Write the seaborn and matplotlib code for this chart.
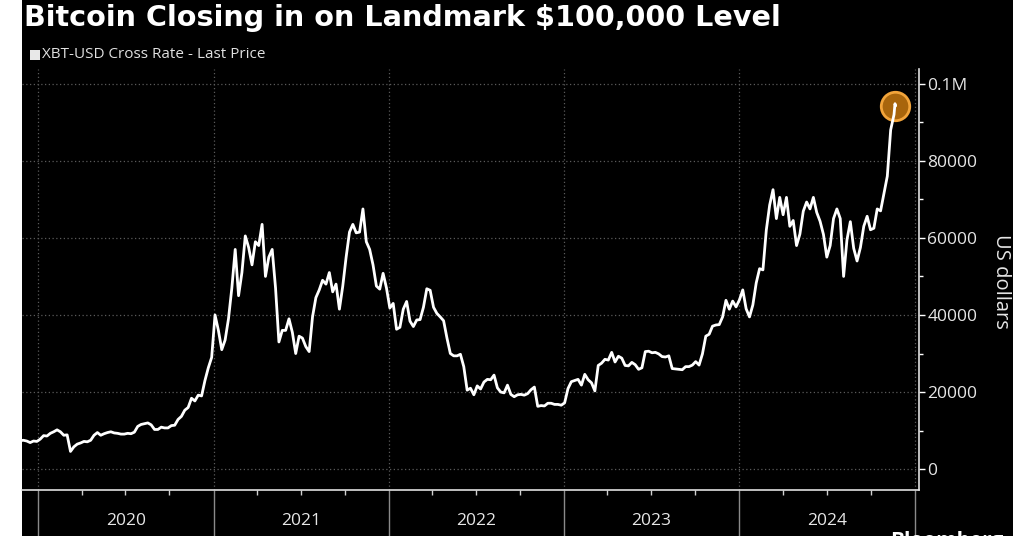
import numpy as np
import pandas as pd
import matplotlib
matplotlib.use("Agg")
import matplotlib.pyplot as plt
import matplotlib.dates as mdates
import matplotlib.transforms as mtransforms
from matplotlib.ticker import MultipleLocator, FixedLocator, FixedFormatter
from matplotlib.patches import Rectangle
import seaborn as sns

# ---------------- data (weekly) ----------------
start_2019 = "2019-11-25"
price_2019 = [7400, 7500, 7300, 6900, 7300, 7200]

start_2020 = "2020-01-06"
price_2020 = [7800, 8700, 8600, 9300,
              9700, 10200, 9700, 8800,
              8900, 4600, 5800, 6500, 6800,
              7200, 7100, 7500, 8800,
              9500, 8800, 9200, 9500,
              9700, 9400, 9300, 9100, 9100,
              9300, 9200, 9600, 11100,
              11600, 11800, 12000, 11500, 10300,
              10300, 10900, 10700, 10700,
              11300, 11400, 12900, 13700,
              15300, 16000, 18400, 17700, 19200,
              19000, 23000, 26300, 29000]

start_2021 = "2021-01-04"
price_2021 = [40000, 36000, 31000, 33500,
              39000, 47000, 57000, 45000,
              51000, 60500, 57500, 53000, 59000,
              58000, 63500, 50000, 55000,
              57000, 47000, 33000, 36000, 36000,
              39000, 35500, 30000, 34500,
              34000, 31800, 30500, 39500,
              44500, 46500, 49000, 48000, 51000,
              46000, 48000, 41500, 47500,
              55000, 61500, 63500, 61300,
              61500, 67500, 59000, 57000, 53000,
              47500, 46700, 50800, 47000]

start_2022 = "2022-01-03"
price_2022 = [41800, 43000, 36300, 36800, 41500,
              43500, 38400, 37000, 38700,
              38800, 42000, 46800, 46400,
              42000, 40400, 39500, 38500,
              34000, 30000, 29400, 29400, 29800,
              26600, 20500, 21000, 19300,
              21600, 20800, 22600, 23300,
              23200, 24400, 21100, 20000, 19800,
              21800, 19400, 18800, 19300,
              19400, 19200, 19600, 20600, 21300,
              16300, 16500, 16400, 17100,
              17100, 16800, 16800, 16600]

start_2023 = "2023-01-02"
price_2023 = [17200, 20900, 22700, 23000, 23300,
              21800, 24600, 23200, 22400,
              20300, 26900, 27500, 28500,
              28300, 30300, 27800, 29300,
              28800, 26900, 26800, 27700, 27100,
              25900, 26300, 30500, 30600,
              30200, 30300, 29900, 29200, 29100,
              29400, 26100, 26000, 25900,
              25800, 26600, 26600, 27000,
              27900, 27000, 29900, 34500, 35000,
              37100, 37400, 37500, 39500,
              43800, 41500, 43600, 42100]

start_2024 = "2024-01-01"
price_2024 = [43900, 46500, 41600, 39500, 42600,
              48300, 52000, 51700, 62000,
              68500, 72500, 65000, 70500,
              66000, 70500, 63000, 64500, 58000,
              61000, 66900, 69300, 67500,
              70500, 66600, 64300, 60900,
              55000, 58000, 65000, 67500, 65000,
              50000, 59500, 64200, 57300,
              54000, 57500, 63000, 65600, 62100,
              62500, 67500, 67000, 71500,
              76000, 88000, 92000]

last_dates = ["2024-11-20", "2024-11-21"]
last_prices = [94800, 94200]

y_ticks = [0, 20000, 40000, 60000, 80000, 100000]
y_tick_labels = ["0", "20000", "40000", "60000", "80000", "0.1M"]
years = [2020, 2021, 2022, 2023, 2024]

title = "Bitcoin Closing in on Landmark $100,000 Level"
legend_label = "XBT-USD Cross Rate - Last Price"
y_label = "US dollars"

# ---------------- assemble ----------------
frames = []
for s, v in [(start_2019, price_2019), (start_2020, price_2020), (start_2021, price_2021),
             (start_2022, price_2022), (start_2023, price_2023), (start_2024, price_2024)]:
    frames.append(pd.DataFrame({"date": pd.date_range(s, periods=len(v), freq="7D"), "price": v}))
frames.append(pd.DataFrame({"date": pd.to_datetime(last_dates), "price": last_prices}))
df = pd.concat(frames, ignore_index=True)

sns.set_theme(style="dark")
plt.rcParams["font.family"] = ["Open Sans", "DejaVu Sans"]

W, H = 1024, 536
fig = plt.figure(figsize=(W / 100, H / 100), dpi=100, facecolor="white")
# black panel with white strips at both sides
fig.patches.append(Rectangle((22 / W, 0), (1013 - 22) / W, 1, transform=fig.transFigure,
                             facecolor="black", edgecolor="none", zorder=-10))

ax_l, ax_r, ax_b, ax_t = 22, 919, 490, 69
ax = fig.add_axes([ax_l / W, 1 - ax_b / H, (ax_r - ax_l) / W, (ax_b - ax_t) / H])
ax.set_facecolor("black")

# highlight circle at last point (behind the line)
ax.scatter([df["date"].iloc[-1]], [df["price"].iloc[-1]], s=420, facecolor=(0.78, 0.47, 0.06, 0.85),
           edgecolor="#f2a43a", linewidth=2.0, zorder=2)
sns.lineplot(data=df, x="date", y="price", ax=ax, color="white", linewidth=2.0, zorder=3)

ax.set_xlim(pd.Timestamp("2019-11-29"), pd.Timestamp("2025-01-09"))
ax.set_ylim(-5400, 103800)

# y axis on the right
ax.yaxis.tick_right()
ax.yaxis.set_major_locator(FixedLocator(y_ticks))
ax.yaxis.set_major_formatter(FixedFormatter(y_tick_labels))
ax.yaxis.set_minor_locator(MultipleLocator(10000))
ax.tick_params(axis="y", which="major", direction="out", length=4, width=1, colors="white",
               labelsize=12.5, pad=2, right=True, left=False)
ax.tick_params(axis="y", which="minor", direction="out", length=3, width=1, color="white",
               right=True, left=False)
for lbl in ax.get_yticklabels():
    lbl.set_color("#e6e6e6")

# x axis: year boundaries as long grey ticks, quarterly minor ticks
ax.xaxis.set_major_locator(mdates.YearLocator())
ax.xaxis.set_major_formatter(plt.NullFormatter())
ax.xaxis.set_minor_locator(mdates.MonthLocator(bymonth=[4, 7, 10]))
ax.tick_params(axis="x", which="major", direction="out", length=34, width=1, color="#8a8a8a",
               bottom=True)
ax.tick_params(axis="x", which="minor", direction="out", length=3.5, width=1, color="#d0d0d0",
               bottom=True)

trans = mtransforms.blended_transform_factory(ax.transData, fig.transFigure)
for yr in years:
    mid = pd.Timestamp(f"{yr}-07-02")
    ax.text(mid, 1 - 521 / H, str(yr), transform=trans, ha="center", va="center",
            color="#e6e6e6", fontsize=12.5)

# grid
ax.grid(True, which="major", axis="both", color="#5a5a5a", linestyle=(0, (1, 2)), linewidth=0.9)
ax.set_axisbelow(True)

for side in ["top", "left"]:
    ax.spines[side].set_visible(False)
for side in ["right", "bottom"]:
    ax.spines[side].set_visible(True)
    ax.spines[side].set_color("#e0e0e0")
    ax.spines[side].set_linewidth(1.2)

ax.set_xlabel("")
ax.set_ylabel("")

# right label
fig.text(1001 / W, 1 - 281 / H, y_label, rotation=-90, ha="center", va="center",
         color="#e6e6e6", fontsize=14.5)

# title and legend
fig.text(24 / W, 1 - 18 / H, title, ha="left", va="center", color="white",
         fontsize=20.6, fontweight="bold", family=["DejaVu Sans"])
fig.patches.append(Rectangle((30 / W, 1 - 60 / H), 10 / W, 10 / H, transform=fig.transFigure,
                             facecolor="#e8e8e8", edgecolor="none", zorder=2))
fig.text(42 / W, 1 - 55 / H, legend_label, ha="left", va="center", color="#e0e0e0", fontsize=11)

# source logo, partially cut off at the bottom edge (as in the reference)
fig.text(890 / W, 1 - 531 / H, "Bloomberg", ha="left", va="top", color="white",
         fontsize=15, fontweight="bold")

fig.savefig("out.png", dpi=100, facecolor=fig.get_facecolor())
